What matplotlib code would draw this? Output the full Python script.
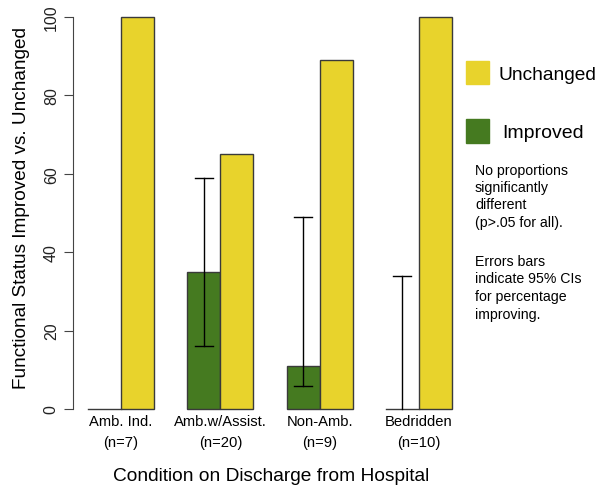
import matplotlib
matplotlib.use("Agg")
import matplotlib.pyplot as plt
from matplotlib.transforms import blended_transform_factory

plt.rcParams['font.family'] = ['Liberation Sans', 'DejaVu Sans']

cat_names = ["Amb. Ind.", "Amb.w/Assist.", "Non-Amb.", "Bedridden"]
n_labels = ["(n=7)", "(n=20)", "(n=9)", "(n=10)"]
improved = [0, 35, 11, 0]
unchanged = [100, 65, 89, 100]
ci_low = [None, 16, 6, 0]
ci_high = [None, 59, 49, 34]
yticks = [0, 20, 40, 60, 80, 100]
notes1 = ["No proportions", "significantly", "different", "(p>.05 for all)."]
notes2 = ["Errors bars", "indicate 95% CIs", "for percentage", "improving."]

yellow = "#E8D32C"
green = "#457A20"
edge = "#3a3a3a"
W, H = 597, 489

fig = plt.figure(figsize=(5.97, 4.89), dpi=100)
ax = fig.add_axes([0.123, 0.1294, 0.6586, 0.8658])
ax.set_xlim(0.56, 12.44)
ax.set_ylim(-4, 104)

for i in range(len(cat_names)):
    x0 = 1 + 3 * i
    if improved[i] > 0:
        ax.bar(x0, improved[i], width=1, align='edge', color=green, edgecolor=edge, linewidth=1)
    else:
        ax.plot([x0, x0 + 1], [0, 0], color=edge, lw=1)
    ax.bar(x0 + 1, unchanged[i], width=1, align='edge', color=yellow, edgecolor=edge, linewidth=1)
    if ci_high[i] is not None:
        xc = x0 + 0.5
        ax.plot([xc, xc], [ci_low[i], ci_high[i]], color='black', lw=1)
        ax.plot([xc - 0.27, xc + 0.27], [ci_high[i], ci_high[i]], color='black', lw=1)
        if ci_low[i] > 0:
            ax.plot([xc - 0.27, xc + 0.27], [ci_low[i], ci_low[i]], color='black', lw=1)

for s in ['top', 'right', 'bottom']:
    ax.spines[s].set_visible(False)
ax.spines['left'].set_bounds(0, 100)
ax.spines['left'].set_color('#444444')
ax.set_yticks(yticks)
ax.set_yticklabels([str(t) for t in yticks], rotation=90, va='center', fontsize=11.5, color='#222222')
ax.tick_params(axis='y', length=6.5, color='#444444', pad=4)
ax.set_xticks([])

# category labels below bars
tr = blended_transform_factory(ax.transData, fig.transFigure)
for i in range(len(cat_names)):
    xc = 2 + 3 * i
    ax.text(xc, 1 - 422 / H, cat_names[i], transform=tr, ha='center', va='center', fontsize=10.6)
    ax.text(xc, 1 - 443.5 / H, n_labels[i], transform=tr, ha='center', va='center', fontsize=10.6)

fig.text(22 / W, 1 - 208 / H, "Functional Status Improved vs. Unchanged", rotation=90,
         ha='center', va='center', fontsize=13.7)
fig.text(271 / W, 1 - 477 / H, "Condition on Discharge from Hospital",
         ha='center', va='center', fontsize=13.8)

# legend outside plot
def fig_rect(x, y, w, h, color):
    fig.patches.append(plt.Rectangle((x / W, 1 - (y + h) / H), w / W, h / H,
                                     transform=fig.transFigure, color=color))

fig_rect(466, 62, 23, 23, yellow)
fig_rect(466, 120, 23, 24, green)
fig.text(499 / W, 1 - 75 / H, "Unchanged", fontsize=13.8, va='center', ha='left')
fig.text(502 / W, 1 - 133 / H, "Improved", fontsize=14, va='center', ha='left')

for k, line in enumerate(notes1):
    fig.text(475 / W, 1 - (171 + 17.2 * k) / H, line, fontsize=10.2, va='center', ha='left')
for k, line in enumerate(notes2):
    fig.text(475 / W, 1 - (262 + 17.5 * k) / H, line, fontsize=10.2, va='center', ha='left')

fig.savefig("out.png", dpi=100)
